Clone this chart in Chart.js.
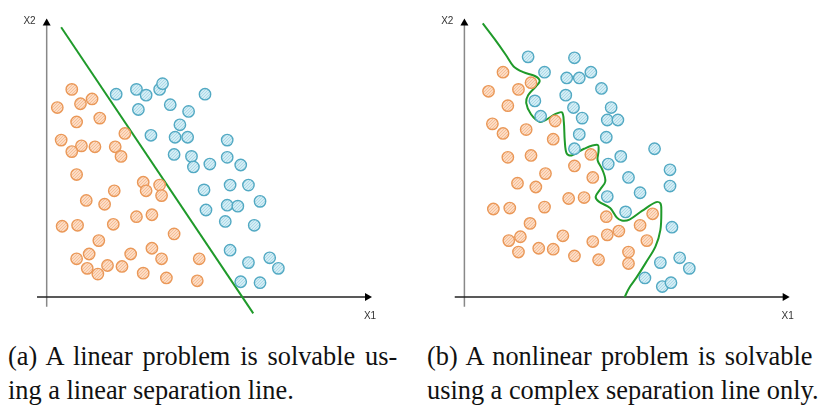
<!DOCTYPE html>
<html>
<head>
<meta charset="utf-8">
<script src="https://cdn.jsdelivr.net/npm/chart.js@4/dist/chart.umd.min.js"></script>
<style>
  body { margin:0; background:#fff; width:819px; height:410px; overflow:hidden; position:relative; }
  .panel { position:absolute; top:0; height:330px; }
  .cap { position:absolute; font-family:"Liberation Serif", "Times New Roman", serif; font-size:28px; line-height:34px;
         color:#111; white-space:nowrap; transform:scaleX(0.94); transform-origin:0 0; }
  .cap .j { text-align:justify; text-align-last:justify; }
</style>
</head>
<body>
<div class="panel" style="left:0;width:410px"><canvas id="chartA" width="410" height="330"></canvas></div>
<div class="panel" style="left:410px;width:409px"><canvas id="chartB" width="409" height="330"></canvas></div>
<div class="cap" style="left:8px;top:339px;width:414px"><div class="j">(a) A linear problem is solvable us-</div><div>ing a linear separation line.</div></div>
<div class="cap" style="left:427px;top:339px;width:410px"><div class="j">(b) A nonlinear problem is solvable</div><div>using a complex separation line only.</div></div>

<script>
window.onload = main;

// (a) linear case, values measured from the axis origin
const orangeA = [[26,217],[11,198],[35,202],[47,207],[31,183],[55,187],[81,171],[15,164],[36,158],[26,152],
  [50,157],[71,157],[77,147],[31,128],[100,120],[103,111],[117,117],[119,106],[70,111],[41,101],[60,97],
  [93,84],[109,86],[16,74],[32,75],[69,76],[132,66],[54,59],[31,40],[44,45],[87,45],[109,51],[119,40],
  [158,40],[42,30],[53,24],[63,33],[78,32],[100,25],[124,20],[156,17]];
const blueA = [[72,212],[93,217],[103,211],[117,217],[120,223],[164,212],[95,196],[128,201],[147,194],
  [138,180],[108,169],[133,167],[146,167],[187,164],[132,149],[150,147],[152,136],[169,139],[187,146],
  [201,138],[190,117],[209,117],[163,112],[187,96],[198,95],[221,100],[165,91],[185,79],[215,75],
  [190,49],[209,36],[231,41],[240,30],[201,16],[221,15]];
const lineA = [[15,282],[214,-17]];

// (b) nonlinear case
const orangeB = [[40,235],[25,215],[56,217],[69,224],[45,200],[29,181],[40,171],[64,175],[94,184],[92,165],
  [45,146],[69,148],[131,149],[114,137],[84,129],[55,119],[74,115],[133,125],[108,103],[124,104],
  [30,92],[47,93],[83,94],[68,77],[147,84],[195,87],[182,75],[160,69],[148,65],[133,58],[102,64],
  [46,59],[58,63],[77,51],[92,50],[56,47],[114,43],[139,39],[170,47],[170,35],[189,59]];
const blueB = [[66,251],[114,250],[83,235],[106,229],[119,229],[131,235],[142,218],[105,211],[73,205],
  [113,198],[79,189],[122,187],[152,198],[148,185],[159,185],[119,170],[147,167],[114,155],[197,155],
  [162,147],[149,139],[170,125],[213,133],[213,116],[182,109],[148,105],[167,89],[215,73],[223,41],
  [203,36],[233,30],[187,20],[205,11],[214,15]];
const curveB = [[19,286],[31,270],[43,253],[51,241],[61,235],[73,231],[78,226],[74,220],[66,211],[64,203],
  [69,191],[78,183],[84,185],[94,191],[101,193],[103,183],[104,163],[106,150],[111,148],[124,155],
  [138,159],[139,153],[138,143],[143,133],[146,121],[141,113],[136,105],[139,100],[151,93],[158,83],
  [163,80],[171,81],[184,90],[198,99],[203,98],[204,90],[203,70],[198,53],[188,36],[178,20],[171,10],[166,0]];

const axisLabels = ['X1', 'X2'];

function main(){
    makeChart('chartA', orangeA, blueA, lineA, 0, -41, 369);
    makeChart('chartB', orangeB, blueB, curveB, 0.35, -49, 360);
}

function toPts(arr){
    return arr.map(p => ({x: p[0], y: p[1]}));
}

function hatch(base, dot){
    var c = document.createElement('canvas');
    c.width = 3; c.height = 3;
    var g = c.getContext('2d');
    g.fillStyle = base;
    g.fillRect(0, 0, 3, 3);
    g.fillStyle = dot;
    g.fillRect(0, 0, 1, 1);
    g.fillRect(2, 1, 1, 1);
    g.fillRect(1, 2, 1, 1);
    return g.createPattern(c, 'repeat');
}

// draws the two arrow axes and their labels
const arrowAxes = {
    id: 'arrowAxes',
    beforeDatasetsDraw(chart){
        const ctx = chart.ctx;
        const xs = chart.scales.x, ys = chart.scales.y;
        const x0 = xs.getPixelForValue(0), y0 = ys.getPixelForValue(0);
        const xEnd = xs.getPixelForValue(337), yTop = ys.getPixelForValue(291);
        const yBot = ys.getPixelForValue(-10), xStart = xs.getPixelForValue(-10);
        ctx.save();
        ctx.lineWidth = 1.5;
        ctx.strokeStyle = '#888';
        ctx.beginPath(); ctx.moveTo(x0, yBot); ctx.lineTo(x0, yTop + 5); ctx.stroke();
        ctx.strokeStyle = '#222';
        ctx.beginPath(); ctx.moveTo(xStart, y0); ctx.lineTo(xEnd - 5, y0); ctx.stroke();
        ctx.fillStyle = '#000';
        ctx.beginPath(); ctx.moveTo(x0, yTop); ctx.lineTo(x0 - 4, yTop + 7); ctx.lineTo(x0 + 4, yTop + 7); ctx.closePath(); ctx.fill();
        ctx.beginPath(); ctx.moveTo(xEnd, y0); ctx.lineTo(xEnd - 7, y0 - 4); ctx.lineTo(xEnd - 7, y0 + 4); ctx.closePath(); ctx.fill();
        ctx.font = '10px "Liberation Sans", Arial, sans-serif';
        ctx.fillStyle = '#333';
        ctx.textBaseline = 'middle';
        ctx.textAlign = 'right';
        ctx.fillText(axisLabels[1], x0 - 11, yTop + 3);
        ctx.textAlign = 'center';
        ctx.fillText(axisLabels[0], xEnd - 2, y0 + 19);
        ctx.restore();
    }
};

function makeChart(id, orange, blue, sep, tension, xmin, xmax){
    var ctx = document.getElementById(id).getContext('2d');
    new Chart(ctx, {
      type: 'scatter',
      data: {
        datasets: [
          {
            data: toPts(sep),
            showLine: true,
            borderColor: '#1f9a2a',
            borderWidth: 2,
            pointRadius: 0,
            tension: tension,
            clip: false,
            order: 2
          },
          {
            data: toPts(orange),
            backgroundColor: hatch('#fcdcc4', '#f6be96'),
            borderColor: '#ea9858',
            borderWidth: 1.4,
            pointRadius: 5.7,
            clip: false,
            order: 1
          },
          {
            data: toPts(blue),
            backgroundColor: hatch('#d3edf5', '#acd9e7'),
            borderColor: '#52a9c3',
            borderWidth: 1.4,
            pointRadius: 5.7,
            clip: false,
            order: 1
          }
        ]
      },
      options: {
        responsive: false,
        animation: false,
        layout: { padding: 0 },
        plugins: { legend: { display: false }, tooltip: { enabled: false } },
        scales: {
          x: { type: 'linear', display: false, min: xmin, max: xmax },
          y: { type: 'linear', display: false, min: -27, max: 303 }
        }
      },
      plugins: [arrowAxes]
    });
}
</script>
</body>
</html>
